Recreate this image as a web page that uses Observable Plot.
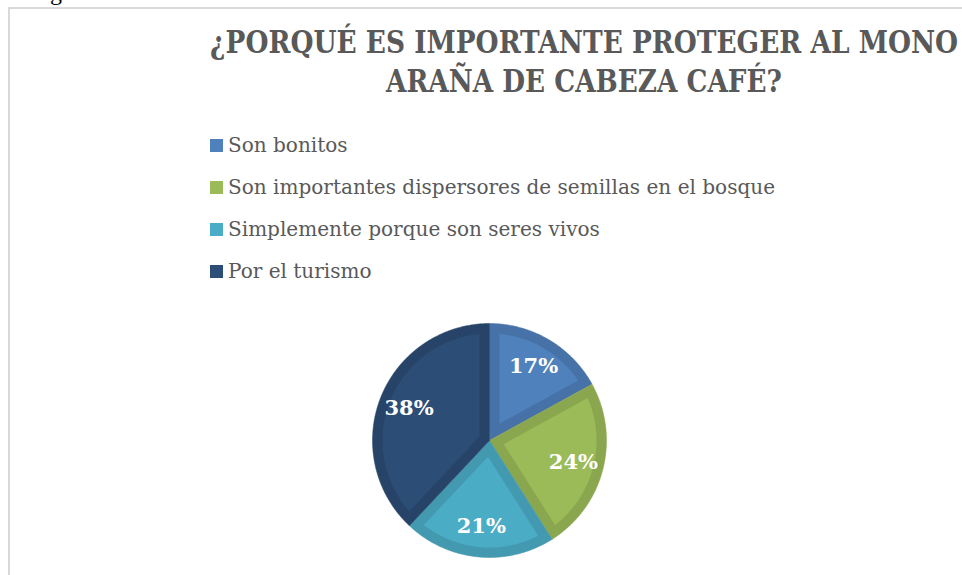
<!DOCTYPE html>
<html>
<head>
<meta charset="utf-8">
<script src="https://cdn.jsdelivr.net/npm/d3@7"></script>
<script src="https://cdn.jsdelivr.net/npm/@observablehq/plot@0.6"></script>
<style>
  html, body { margin: 0; padding: 0; background: #fff; }
  body { width: 962px; height: 575px; position: relative; overflow: hidden; }
  #frame { position: absolute; left: 8px; top: 7px; width: 1000px; height: 600px;
           border-left: 2px solid #d9d9d9; border-top: 2px solid #d9d9d9; }
  #chart { position: absolute; left: 0; top: 0; }
  .tline { position: absolute; left: 0; width: 1168px; text-align: center; height: 39px; line-height: 39px;
           font-family: "DejaVu Serif", serif; font-weight: bold;
           font-size: 32px; color: #595959; white-space: nowrap; }
  .tline span { display: inline-block; transform-origin: center center; }
  .row { position: absolute; left: 210px; height: 24px; display: flex; align-items: center;
         font-family: "DejaVu Serif", serif; font-size: 20px;
         color: #595959; white-space: nowrap; }
  .row span { display: inline-block; transform-origin: left center; }
  .sw { width: 13px; height: 13px; margin-right: 5px; flex: none; }
  #g { position: absolute; left: 50px; top: -21px; font-family: "Liberation Serif", serif; font-size: 24px; color: #000; }
</style>
</head>
<body>
<div id="g">g</div>
<div id="frame"></div>
<div id="chart"></div>
<div id="title"></div>
<div id="legend"></div>
<script>
const titleLines = ["¿PORQUÉ ES IMPORTANTE PROTEGER AL MONO", "ARAÑA DE CABEZA CAFÉ?"];
const categories = ["Son bonitos", "Son importantes dispersores de semillas en el bosque", "Simplemente porque son seres vivos", "Por el turismo"];
const percents = [17, 24, 21, 38];
const labels = ["17%", "24%", "21%", "38%"];
const fillColors = ["#4f81bd", "#9bbb59", "#4bacc6", "#2c4d75"];
const edgeColors = ["#4672a8", "#8aa64f", "#4399b0", "#274468"];

// title: two centred lines, fitted to the reference's width
const titleWidths = [748, 396];
const title = document.getElementById("title");
titleLines.forEach((t, i) => {
  const d = document.createElement("div");
  d.className = "tline";
  d.style.top = (23 + i * 39) + "px";
  const s = document.createElement("span");
  s.textContent = t;
  d.appendChild(s);
  title.appendChild(d);
  const w = s.getBoundingClientRect().width;
  s.style.transform = `scaleX(${titleWidths[i] / w})`;
});

// legend (HTML, above the SVG)
const legend = document.getElementById("legend");
const longW = 547;
let scaleL = 1;
categories.forEach((c, i) => {
  const row = document.createElement("div");
  row.className = "row";
  row.style.top = (133 + i * 42) + "px";
  row.innerHTML = `<div class="sw" style="background:${fillColors[i]}"></div><span>${c}</span>`;
  legend.appendChild(row);
});
const spans = legend.querySelectorAll(".row span");
scaleL = longW / spans[1].getBoundingClientRect().width;
spans.forEach(s => s.style.transform = `scaleX(${scaleL})`);

// build slice geometry (clockwise from 12 o'clock), unit radius
const total = d3.sum(percents);
const inset = 10 / 117;
const outer = [], inner = [], labelPts = [];
let a = 0;
percents.forEach((p, i) => {
  const a0 = a, a1 = a + (p / total) * 2 * Math.PI;
  a = a1;
  const steps = Math.max(8, Math.ceil((a1 - a0) / 0.01));
  const pt = (ang, r) => [Math.sin(ang) * r, Math.cos(ang) * r];
  const o = [[0, 0]];
  for (let k = 0; k <= steps; k++) o.push(pt(a0 + (a1 - a0) * k / steps, 1));
  o.push([0, 0]);
  o.forEach(([x, y]) => outer.push({key: i, x, y, c: edgeColors[i]}));
  const half = (a1 - a0) / 2, mid = a0 + half;
  const vr = inset / Math.sin(half);
  const rr = 1 - inset;
  const del = Math.asin(inset / rr);
  const n = [pt(mid, vr)];
  for (let k = 0; k <= steps; k++) n.push(pt(a0 + del + (a1 - a0 - 2 * del) * k / steps, rr));
  n.push(pt(mid, vr));
  n.forEach(([x, y]) => inner.push({key: i, x, y, c: fillColors[i]}));
  const lp = pt(mid, 0.74);
  labelPts.push({x: lp[0], y: lp[1], t: labels[i]});
});

const chart = Plot.plot({
  width: 962, height: 575,
  marginLeft: 372, marginRight: 356, marginTop: 323, marginBottom: 18,
  x: {domain: [-1, 1], axis: null},
  y: {domain: [-1, 1], axis: null},
  color: {type: "identity"},
  style: {background: "transparent"},
  marks: [
    Plot.line(outer, {x: "x", y: "y", z: "key", fill: "c", stroke: "c", strokeWidth: 0.5, curve: "linear"}),
    Plot.line(inner, {x: "x", y: "y", z: "key", fill: "c", stroke: "none", curve: "linear"}),
    Plot.text(labelPts, {x: "x", y: "y", text: "t", fill: "white", fontSize: 21, fontWeight: "bold",
      fontFamily: "DejaVu Serif, serif"})
  ]
});
document.getElementById("chart").appendChild(chart);
</script>
</body>
</html>
